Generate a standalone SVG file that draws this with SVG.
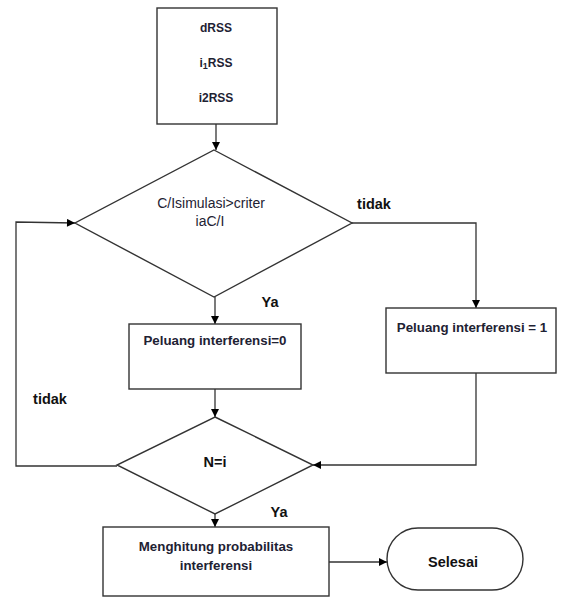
<svg xmlns="http://www.w3.org/2000/svg" width="563" height="599" viewBox="0 0 563 599">
  <defs>
    <marker id="arr" viewBox="0 0 10 10" refX="10" refY="5" markerWidth="9" markerHeight="8" markerUnits="userSpaceOnUse" orient="auto">
      <path d="M0,0 L10,5 L0,10 Z" fill="#000"/>
    </marker>
    <style>
      .shape { fill: #fff; stroke: #333; stroke-width: 1.4; }
      .conn { fill: none; stroke: #333; stroke-width: 1.3; }
      .t { font-family: "Liberation Sans", Arial, sans-serif; font-size: 13.3px; font-weight: bold; fill: #1e2233; }
      .ts { font-family: "Liberation Sans", Arial, sans-serif; font-size: 12px; font-weight: bold; fill: #1e2233; }
      .tr { font-family: "Liberation Sans", Arial, sans-serif; font-size: 14px; fill: #1e2233; }
      .lbl { font-family: "Liberation Sans", Arial, sans-serif; font-size: 14.5px; font-weight: bold; fill: #111; }
    </style>
  </defs>
  <rect width="563" height="599" fill="#fff"/>

  <g id="connectors">
    <path class="conn" d="M216,124 L216,150" marker-end="url(#arr)"/>
    <path class="conn" d="M215,297 L215,324" marker-end="url(#arr)"/>
    <path class="conn" d="M352,223 L476,223 L476,308" marker-end="url(#arr)"/>
    <path class="conn" d="M215,389 L215,417" marker-end="url(#arr)"/>
    <path class="conn" d="M476,373 L476,465 L313,465" marker-end="url(#arr)"/>
    <path class="conn" d="M117,466 L16,466 L16,222 L75,223" marker-end="url(#arr)"/>
    <path class="conn" d="M215,514 L215,527" marker-end="url(#arr)"/>
    <path class="conn" d="M329,562 L387,562" marker-end="url(#arr)"/>
  </g>

  <g id="input">
    <rect class="shape" x="157" y="8" width="120" height="116"/>
    <text class="ts" x="216" y="32" text-anchor="middle">dRSS</text>
    <text class="ts" x="216" y="67" text-anchor="middle">i<tspan font-size="9" dy="2">1</tspan><tspan dy="-2">RSS</tspan></text>
    <text class="ts" x="216" y="102" text-anchor="middle">i2RSS</text>
  </g>

  <g id="decision1">
    <polygon class="shape" points="214,150 352,223 214,297 75,223"/>
    <text class="tr" x="211" y="208" text-anchor="middle">C/Isimulasi&gt;criter</text>
    <text class="tr" x="210" y="226" text-anchor="middle">iaC/I</text>
  </g>

  <g id="prob0">
    <rect class="shape" x="129" y="324" width="172" height="65"/>
    <text class="t" x="215" y="345" text-anchor="middle">Peluang interferensi=0</text>
  </g>

  <g id="prob1">
    <rect class="shape" x="386" y="308" width="170" height="65"/>
    <text class="t" x="472" y="332" text-anchor="middle">Peluang interferensi = 1</text>
  </g>

  <g id="decision2">
    <polygon class="shape" points="215,417 313,465 215,514 117,465"/>
    <text class="lbl" x="215" y="467" text-anchor="middle">N=i</text>
  </g>

  <g id="compute">
    <rect class="shape" x="103" y="527" width="226" height="69"/>
    <text class="t" x="216" y="551" text-anchor="middle">Menghitung probabilitas</text>
    <text class="t" x="216" y="570" text-anchor="middle">interferensi</text>
  </g>

  <g id="end">
    <rect class="shape" x="387" y="528" width="136" height="62" rx="31" ry="31"/>
    <text class="lbl" x="453" y="567" text-anchor="middle" font-size="15.5">Selesai</text>
  </g>

  <g id="labels">
    <text class="lbl" x="374" y="209" text-anchor="middle">tidak</text>
    <text class="lbl" x="270" y="307" text-anchor="middle">Ya</text>
    <text class="lbl" x="50" y="404" text-anchor="middle">tidak</text>
    <text class="lbl" x="279" y="517" text-anchor="middle">Ya</text>
  </g>
</svg>
